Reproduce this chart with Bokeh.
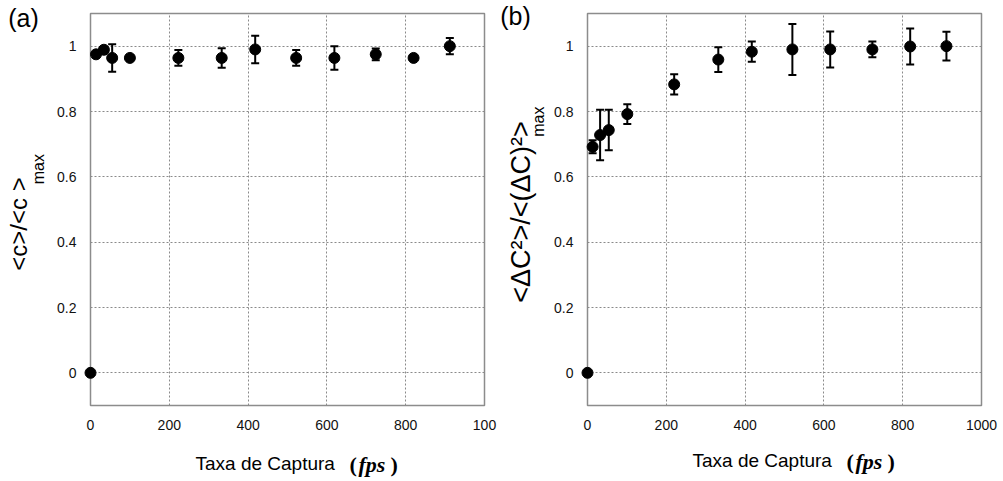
from math import pi

from bokeh.core.properties import value
from bokeh.embed import file_html
from bokeh.layouts import row
from bokeh.models import ColumnDataSource, FixedTicker, Range1d, TeeHead, Whisker
from bokeh.plotting import figure
from bokeh.resources import INLINE

# (a) normalised mean <c>/<c>max versus capture rate
rate_a = [0, 14, 34, 55, 100, 223, 333, 418, 522, 619, 724, 820, 912]
mean_a = [0, 0.975, 0.989, 0.964, 0.964, 0.964, 0.964, 0.990, 0.964, 0.964, 0.975, 0.964, 1.0]
err_a = [0, 0, 0, 0.042, 0, 0.024, 0.030, 0.042, 0.024, 0.036, 0.018, 0, 0.025]

# (b) normalised fluctuation <dC^2>/<(dC)^2>max versus capture rate
rate_b = [0, 13, 32, 54, 101, 220, 332, 417, 520, 616, 723, 819, 911]
fluct_b = [0, 0.692, 0.728, 0.743, 0.792, 0.883, 0.959, 0.983, 0.990, 0.990, 0.990, 0.999, 1.0]
err_b = [0, 0.020, 0.077, 0.062, 0.030, 0.031, 0.038, 0.031, 0.078, 0.055, 0.024, 0.055, 0.044]

x_ticks = [0, 200, 400, 600, 800, 1000]
y_ticks = [0, 0.2, 0.4, 0.6, 0.8, 1]
y_tick_labels = ["0", "0.2", "0.4", "0.6", "0.8", "1"]

X_RANGE = (0, 1000)
Y_RANGE = (-0.1, 1.1)
HEIGHT = 481

SANS = "Liberation Sans"
SERIF = "Liberation Serif"


def make_panel(xs, ys, errs, width, borders, last_x_label):
    left, right, top, bottom = borders
    p = figure(
        width=width, height=HEIGHT, output_backend="svg", toolbar_location=None,
        x_range=Range1d(*X_RANGE), y_range=Range1d(*Y_RANGE),
        min_border_left=left, min_border_right=right,
        min_border_top=top, min_border_bottom=bottom,
    )
    p.background_fill_color = "white"
    p.border_fill_color = "white"
    p.outline_line_color = "#8c8c8c"
    p.outline_line_width = 1.5

    for ax in (p.xaxis[0], p.yaxis[0]):
        ax.axis_line_color = None
        ax.major_tick_line_color = None
        ax.minor_tick_line_color = None
        ax.major_label_text_font = SANS
        ax.major_label_text_font_size = "14px"
        ax.major_label_text_color = "#111111"

    p.xaxis.ticker = FixedTicker(ticks=x_ticks)
    p.xaxis.major_label_overrides = {1000: last_x_label}
    p.xaxis.major_label_standoff = 8
    p.yaxis.ticker = FixedTicker(ticks=y_ticks)
    p.yaxis.major_label_overrides = {t: s for t, s in zip(y_ticks, y_tick_labels)}
    p.yaxis.major_label_standoff = 8

    for g in (p.xgrid[0], p.ygrid[0]):
        g.grid_line_color = "#8a8a8a"
        g.grid_line_dash = "2 2"
        g.grid_line_width = 1

    # error bars only where an uncertainty was measured
    keep = [i for i, e in enumerate(errs) if e > 0]
    err_src = ColumnDataSource(dict(
        x=[xs[i] for i in keep],
        upper=[ys[i] + errs[i] for i in keep],
        lower=[ys[i] - errs[i] for i in keep],
    ))
    p.add_layout(Whisker(
        source=err_src, base="x", upper="upper", lower="lower",
        line_color="black", line_width=2,
        upper_head=TeeHead(size=8, line_width=2, line_color="black"),
        lower_head=TeeHead(size=8, line_width=2, line_color="black"),
        level="overlay",
    ))

    pts = ColumnDataSource(dict(x=xs, y=ys))
    p.scatter("x", "y", source=pts, size=11, marker="circle",
              fill_color="black", line_color="black", level="overlay")

    # frame geometry, used to place the annotation texts by pixel position
    p.tags = [dict(left=left, top=top, fw=width - left - right, fh=HEIGHT - top - bottom)]
    return p


def add_text(p, px, py, text, size, font=SANS, style="normal", angle=0.0,
             align="left", baseline="middle"):
    g = p.tags[0]
    x = X_RANGE[0] + (px - g["left"]) / g["fw"] * (X_RANGE[1] - X_RANGE[0])
    y = Y_RANGE[1] - (py - g["top"]) / g["fh"] * (Y_RANGE[1] - Y_RANGE[0])
    p.text(
        x=[x], y=[y], text=[text], angle=angle,
        text_font=value(font), text_font_size=size, text_font_style=style,
        text_align=align, text_baseline=baseline, text_color="black",
        level="overlay",
    )


def add_x_title(p, x0):
    add_text(p, x0, 463, "Taxa de Captura", "19px")
    add_text(p, x0 + 154, 464, "(", "22px", font=SERIF, style="bold")
    add_text(p, x0 + 163, 464, "fps", "22px", font=SERIF, style="bold italic")
    add_text(p, x0 + 195, 464, ")", "22px", font=SERIF, style="bold")


pa = make_panel(rate_a, mean_a, err_a, 500, (90, 16, 12, 76), "100")
add_text(pa, 23, 17, "(a)", "25px", align="center")
add_text(pa, 18, 223, "<c>/<c >", "24px", angle=pi / 2, align="center")
add_text(pa, 38, 168, "max", "16px", angle=pi / 2, align="center")
add_x_title(pa, 195)

pb = make_panel(rate_b, fluct_b, err_b, 503, (87, 22, 13, 73), "1000")
add_text(pb, 15, 16, "(b)", "25px", align="center")
add_text(pb, 20, 213, "<ΔC²>/<(ΔC)²>", "27px", angle=pi / 2, align="center")
add_text(pb, 38, 122, "max", "16px", angle=pi / 2, align="center")
add_x_title(pb, 192)

layout = row(pa, pb)
open("out.html", "w").write(file_html(layout, INLINE))
